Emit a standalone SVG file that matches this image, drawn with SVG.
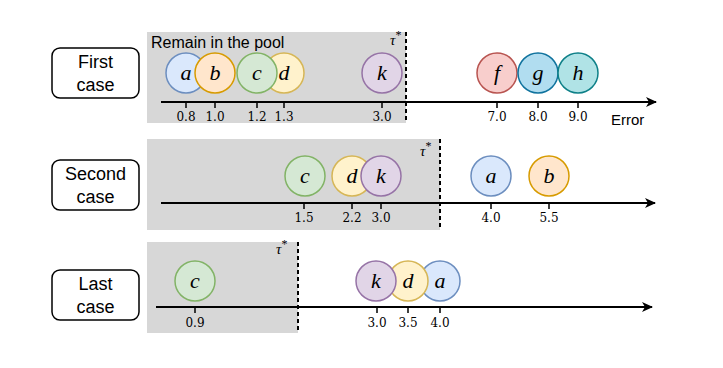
<svg xmlns="http://www.w3.org/2000/svg" width="723" height="368" viewBox="0 0 723 368">
<defs>
<marker id="arr" markerWidth="12" markerHeight="10" refX="10" refY="5" orient="auto" markerUnits="userSpaceOnUse">
<path d="M0,0 L11,5 L0,10 L3,5 Z" fill="#000"/>
</marker>
<style>
.pool{fill:#d7d7d7;stroke:none}
.tau{stroke:#000;stroke-width:2;stroke-dasharray:4,3}
.axis{stroke:#000;stroke-width:2;fill:none}
.tick{stroke:#000;stroke-width:1.5}
.tl{font-family:"DejaVu Serif","Liberation Serif",serif;font-size:12px;text-anchor:middle;fill:#000}
.lab{font-family:"Liberation Serif","DejaVu Serif",serif;font-style:italic;font-size:22px;text-anchor:middle;fill:#000}
.taul{font-family:"Liberation Serif","DejaVu Serif",serif;font-style:italic;font-size:15px;fill:#000}
.sans{font-family:"Liberation Sans",Arial,sans-serif;fill:#000}
.bt{font-family:"Liberation Sans",Arial,sans-serif;font-size:18px;text-anchor:middle;fill:#000}
.box{fill:#fff;stroke:#000;stroke-width:1.5}
.c{stroke-width:1.5}
.ca{fill:#dae8fc;stroke:#6c8ebf}
.cb{fill:#ffe6cc;stroke:#d79b00}
.cc{fill:#d5e8d4;stroke:#82b366}
.cd{fill:#fff2cc;stroke:#d6b656}
.ck{fill:#e1d5e7;stroke:#9673a6}
.cf{fill:#f8cecc;stroke:#b85450}
.cg{fill:#b1ddf0;stroke:#10739e}
.ch{fill:#b0e3e6;stroke:#0e8088}
</style>
</defs>

<!-- Pools -->
<g id="pool1">
<rect class="pool" x="147" y="32" width="259" height="91"/>
<text class="sans" x="151" y="48" font-size="16">Remain in the pool</text>
<text class="taul" x="390" y="45">τ<tspan font-size="12" dy="-6" font-style="normal">*</tspan></text>
</g>
<g id="pool2">
<rect class="pool" x="147" y="139" width="293" height="91"/>
<text class="taul" x="420" y="156">τ<tspan font-size="12" dy="-6" font-style="normal">*</tspan></text>
</g>
<g id="pool3">
<rect class="pool" x="147" y="242" width="151" height="91"/>
<text class="taul" x="276" y="254">τ<tspan font-size="12" dy="-6" font-style="normal">*</tspan></text>
</g>

<!-- Connectors: axes, ticks, thresholds -->
<g id="connectors">
<line class="axis" x1="161" y1="102" x2="656" y2="102" marker-end="url(#arr)"/>
<line class="axis" x1="161" y1="203" x2="655" y2="203" marker-end="url(#arr)"/>
<line class="axis" x1="156" y1="307" x2="652" y2="307" marker-end="url(#arr)"/>
<line class="tau" x1="406" y1="32" x2="406" y2="123"/>
<line class="tau" x1="440" y1="139" x2="440" y2="230"/>
<line class="tau" x1="298" y1="242" x2="298" y2="333"/>
<g>
<line class="tick" x1="186" y1="102" x2="186" y2="108"/>
<line class="tick" x1="215" y1="102" x2="215" y2="108"/>
<line class="tick" x1="257" y1="102" x2="257" y2="108"/>
<line class="tick" x1="284" y1="102" x2="284" y2="108"/>
<line class="tick" x1="382" y1="102" x2="382" y2="108"/>
<line class="tick" x1="497" y1="102" x2="497" y2="108"/>
<line class="tick" x1="538" y1="102" x2="538" y2="108"/>
<line class="tick" x1="578" y1="102" x2="578" y2="108"/>
<line class="tick" x1="304" y1="203" x2="304" y2="209"/>
<line class="tick" x1="352" y1="203" x2="352" y2="209"/>
<line class="tick" x1="381" y1="203" x2="381" y2="209"/>
<line class="tick" x1="491" y1="203" x2="491" y2="209"/>
<line class="tick" x1="549" y1="203" x2="549" y2="209"/>
<line class="tick" x1="195" y1="307" x2="195" y2="313"/>
<line class="tick" x1="377" y1="307" x2="377" y2="313"/>
<line class="tick" x1="408" y1="307" x2="408" y2="313"/>
<line class="tick" x1="440" y1="307" x2="440" y2="313"/>
</g>
<g>
<text class="tl" x="186" y="121">0.8</text>
<text class="tl" x="215" y="121">1.0</text>
<text class="tl" x="257" y="121">1.2</text>
<text class="tl" x="284" y="121">1.3</text>
<text class="tl" x="382" y="121">3.0</text>
<text class="tl" x="497" y="121">7.0</text>
<text class="tl" x="538" y="121">8.0</text>
<text class="tl" x="578" y="121">9.0</text>
<text class="tl" x="304" y="222">1.5</text>
<text class="tl" x="352" y="222">2.2</text>
<text class="tl" x="381" y="222">3.0</text>
<text class="tl" x="491" y="222">4.0</text>
<text class="tl" x="549" y="222">5.5</text>
<text class="tl" x="195" y="327">0.9</text>
<text class="tl" x="377" y="327">3.0</text>
<text class="tl" x="408" y="327">3.5</text>
<text class="tl" x="440" y="327">4.0</text>
</g>
<text class="sans" x="611" y="125" font-size="15">Error</text>
</g>

<!-- Case boxes -->
<g id="case1">
<rect class="box" x="52" y="48" width="87" height="50" rx="8"/>
<text class="bt" x="95.5" y="68">First</text>
<text class="bt" x="95.5" y="91">case</text>
</g>
<g id="case2">
<rect class="box" x="52" y="160" width="87" height="50" rx="8"/>
<text class="bt" x="95.5" y="180">Second</text>
<text class="bt" x="95.5" y="203">case</text>
</g>
<g id="case3">
<rect class="box" x="52" y="270" width="87" height="50" rx="8"/>
<text class="bt" x="95.5" y="290">Last</text>
<text class="bt" x="95.5" y="313">case</text>
</g>

<!-- Row 1 nodes -->
<g id="r1a"><circle class="c ca" cx="186" cy="73" r="20"/><text class="lab" x="186" y="80">a</text></g>
<g id="r1b"><circle class="c cb" cx="215" cy="73" r="20"/><text class="lab" x="215" y="80">b</text></g>
<g id="r1d"><circle class="c cd" cx="284" cy="73" r="20"/><text class="lab" x="284" y="80">d</text></g>
<g id="r1c"><circle class="c cc" cx="257" cy="73" r="20"/><text class="lab" x="257" y="80">c</text></g>
<g id="r1k"><circle class="c ck" cx="382" cy="73" r="20"/><text class="lab" x="382" y="80">k</text></g>
<g id="r1f"><circle class="c cf" cx="497" cy="73" r="20"/><text class="lab" x="497" y="80">f</text></g>
<g id="r1g"><circle class="c cg" cx="538" cy="73" r="20"/><text class="lab" x="538" y="80">g</text></g>
<g id="r1h"><circle class="c ch" cx="578" cy="73" r="20"/><text class="lab" x="578" y="80">h</text></g>

<!-- Row 2 nodes -->
<g id="r2c"><circle class="c cc" cx="305" cy="176" r="20"/><text class="lab" x="305" y="183">c</text></g>
<g id="r2d"><circle class="c cd" cx="352" cy="176" r="20"/><text class="lab" x="352" y="183">d</text></g>
<g id="r2k"><circle class="c ck" cx="381" cy="176" r="20"/><text class="lab" x="381" y="183">k</text></g>
<g id="r2a"><circle class="c ca" cx="491" cy="176" r="20"/><text class="lab" x="491" y="183">a</text></g>
<g id="r2b"><circle class="c cb" cx="549" cy="176" r="20"/><text class="lab" x="549" y="183">b</text></g>

<!-- Row 3 nodes -->
<g id="r3c"><circle class="c cc" cx="195" cy="281" r="20"/><text class="lab" x="195" y="288">c</text></g>
<g id="r3a"><circle class="c ca" cx="440" cy="281" r="20"/><text class="lab" x="440" y="288">a</text></g>
<g id="r3d"><circle class="c cd" cx="408" cy="281" r="20"/><text class="lab" x="408" y="288">d</text></g>
<g id="r3k"><circle class="c ck" cx="376" cy="281" r="20"/><text class="lab" x="376" y="288">k</text></g>
</svg>
